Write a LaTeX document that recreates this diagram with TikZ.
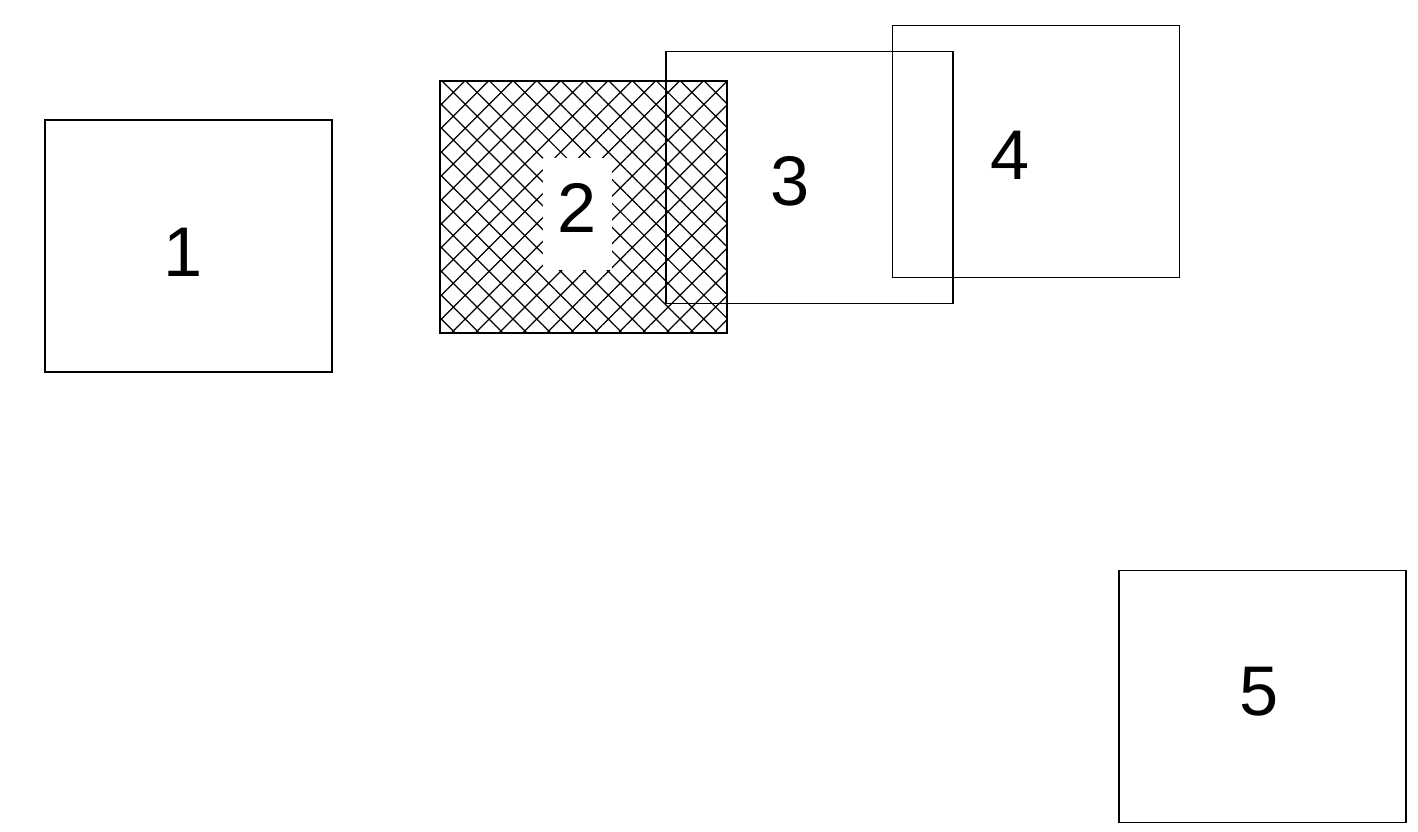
\documentclass[tikz,border=0pt]{standalone}
\usepackage{fontspec}
\setmainfont{Liberation Sans}
\usetikzlibrary{patterns.meta}
\tikzset{card/.style={draw,line width=0.45pt,minimum width=2.87cm,minimum height=2.52cm,inner sep=0pt},
	num/.style={inner sep=0pt,font=\fontsize{20}{24}\selectfont}}

\begin{document}
\begin{tikzpicture}
	\useasboundingbox (0,0) rectangle (14.18,8.32);
	\node (box1) [card] at (1.885,5.86) {};
	\node (box2) [card,pattern={Hatch[angle=45,distance=4.8pt,line width=0.35pt]}] at (5.835,6.25) {};
	\node (num2) [num,fill=white,minimum width=0.69cm,minimum height=1.12cm,text height=0.5cm,text depth=0.12cm] at (5.775,6.18) {2};
	\node (box3) [card] at (8.095,6.545) {};
	\node (box4) [card] at (10.36,6.805) {};
	\node (box5) [card] at (12.625,1.355) {};
	\node (num1) [num] at (1.83,5.80) {1};
	\node (num3) [num] at (7.90,6.51) {3};
	\node (num4) [num] at (10.10,6.77) {4};
	\node (num5) [num] at (12.59,1.40) {5};
\end{tikzpicture}
\end{document}
